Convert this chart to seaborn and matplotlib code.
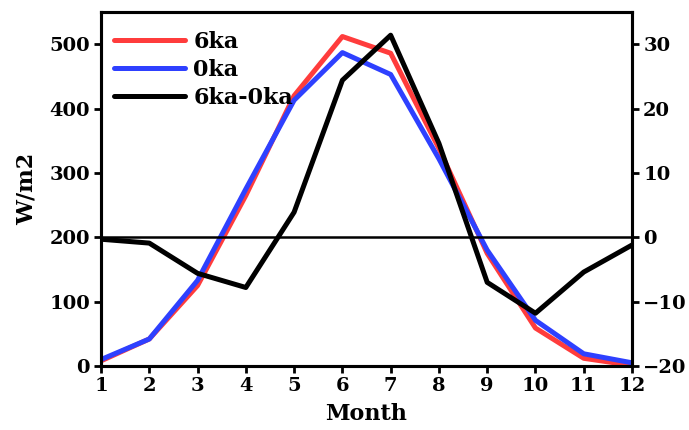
import matplotlib
matplotlib.use("Agg")
import matplotlib.pyplot as plt
import seaborn as sns
import pandas as pd

months = [1, 2, 3, 4, 5, 6, 7, 8, 9, 10, 11, 12]
ka6 = [8, 42, 125, 265, 420, 512, 486, 338, 175, 59, 12, 1]
ka0 = [10, 42, 133, 275, 413, 487, 453, 322, 180, 71, 19, 5]
diff = [-0.3, -0.9, -5.6, -7.8, 3.9, 24.4, 31.4, 14.6, -7.0, -11.8, -5.4, -1.2]

sns.set_style("ticks")
plt.rcParams['font.family'] = ['DejaVu Serif Condensed', 'DejaVu Serif']
plt.rcParams['font.weight'] = 'bold'
for k in ['text.color', 'axes.labelcolor', 'xtick.color', 'ytick.color', 'axes.edgecolor']:
    plt.rcParams[k] = 'black'

df = pd.DataFrame({"Month": months, "6ka": ka6, "0ka": ka0, "diff": diff})

fig = plt.figure(figsize=(6.89, 4.3), dpi=100)
ax = fig.add_axes([0.1466, 0.1488, 0.9173 - 0.1466, 0.972 - 0.1488])
ax2 = ax.twinx()

sns.lineplot(data=df, x="Month", y="6ka", ax=ax, color="#ff3c3c", lw=3.6, label="6ka", legend=False)
sns.lineplot(data=df, x="Month", y="0ka", ax=ax, color="#2e40ff", lw=3.6, label="0ka", legend=False)
sns.lineplot(data=df, x="Month", y="diff", ax=ax2, color="black", lw=3.6, label="6ka-0ka", legend=False)
ax2.axhline(0, color="black", lw=1.8, zorder=1)

ax.set_xlim(1, 12)
ax.set_ylim(0, 550)
ax2.set_ylim(-20, 35)
ax.set_xticks(months)
ax.set_yticks([0, 100, 200, 300, 400, 500])
ax2.set_yticks([-20, -10, 0, 10, 20, 30])

for a in (ax, ax2):
    for s in a.spines.values():
        s.set_linewidth(2.2)
        s.set_visible(True)
        s.set_color("black")
    a.tick_params(width=2, length=5, labelsize=14, direction="out", colors="black", pad=3)
    for lab in a.get_xticklabels() + a.get_yticklabels():
        lab.set_fontweight("bold")

ax.set_xlabel("Month", fontsize=16, fontweight="bold", labelpad=6)
ax.set_ylabel("W/m2", fontsize=16, fontweight="bold", labelpad=8)
ax2.set_ylabel("")

h1, l1 = ax.get_legend_handles_labels()
h2, l2 = ax2.get_legend_handles_labels()
leg = ax2.legend(h1 + h2, l1 + l2, loc="upper left", bbox_to_anchor=(0.0, 0.985),
                 frameon=False, handlelength=3.2, handletextpad=0.35, labelspacing=0.28,
                 borderaxespad=0.2, prop={"weight": "bold", "size": 16})

fig.savefig("out.png", dpi=100)
